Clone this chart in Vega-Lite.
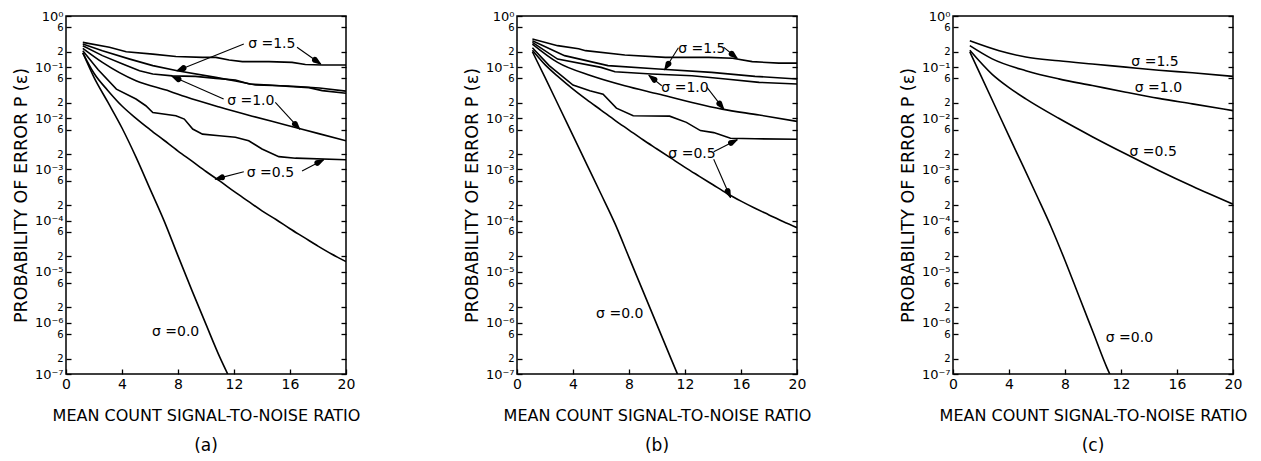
{
  "$schema": "https://vega.github.io/schema/vega-lite/v6.json",
  "background": "white",
  "padding": {"left": 11, "top": 9, "right": 5, "bottom": 2},
  "config": {
    "font": "DejaVu Sans",
    "view": {"stroke": "black", "strokeWidth": 1.5},
    "axis": {"domain": false, "grid": false, "tickColor": "black", "tickWidth": 1.3, "labelColor": "black", "titleColor": "black", "titleFontWeight": "normal", "labelFont": "DejaVu Sans", "titleFont": "DejaVu Sans", "labelOverlap": false, "labelFlush": false},
    "title": {"font": "DejaVu Sans", "fontSize": 17, "fontWeight": "normal", "color": "black"},
    "text": {"font": "DejaVu Sans"}
  },
  "datasets": {
    "curves": [
      {"p":"a","s":"a15j","k":"j","x":1.2,"y":0.305},{"p":"a","s":"a15j","k":"j","x":3.1,"y":0.244},{"p":"a","s":"a15j","k":"j","x":4.3,"y":0.2},{"p":"a","s":"a15j","k":"j","x":6.2,"y":0.18},{"p":"a","s":"a15j","k":"j","x":7.85,"y":0.162},{"p":"a","s":"a15j","k":"j","x":9.75,"y":0.155},{"p":"a","s":"a15j","k":"j","x":10.7,"y":0.155},{"p":"a","s":"a15j","k":"j","x":11.65,"y":0.138},{"p":"a","s":"a15j","k":"j","x":12.6,"y":0.128},{"p":"a","s":"a15j","k":"j","x":14.5,"y":0.128},{"p":"a","s":"a15j","k":"j","x":16.15,"y":0.124},{"p":"a","s":"a15j","k":"j","x":17.1,"y":0.113},{"p":"a","s":"a15j","k":"j","x":18.3,"y":0.11},{"p":"a","s":"a15j","k":"j","x":20,"y":0.11},
      {"p":"a","s":"a15t","k":"j","x":1.2,"y":0.283},{"p":"a","s":"a15t","k":"j","x":2.6,"y":0.209},{"p":"a","s":"a15t","k":"j","x":4.5,"y":0.145},{"p":"a","s":"a15t","k":"j","x":6.2,"y":0.107},{"p":"a","s":"a15t","k":"j","x":7.95,"y":0.0851},{"p":"a","s":"a15t","k":"j","x":10.7,"y":0.0631},{"p":"a","s":"a15t","k":"j","x":12.1,"y":0.0537},{"p":"a","s":"a15t","k":"j","x":13.55,"y":0.0447},{"p":"a","s":"a15t","k":"j","x":15.95,"y":0.0427},{"p":"a","s":"a15t","k":"j","x":18.1,"y":0.039},{"p":"a","s":"a15t","k":"j","x":20,"y":0.0339},
      {"p":"a","s":"a10j","k":"j","x":1.2,"y":0.263},{"p":"a","s":"a10j","k":"j","x":2.6,"y":0.168},{"p":"a","s":"a10j","k":"j","x":4.05,"y":0.115},{"p":"a","s":"a10j","k":"j","x":5.25,"y":0.0851},{"p":"a","s":"a10j","k":"j","x":6.2,"y":0.0733},{"p":"a","s":"a10j","k":"j","x":7.6,"y":0.0676},{"p":"a","s":"a10j","k":"j","x":9.25,"y":0.0661},{"p":"a","s":"a10j","k":"j","x":10.7,"y":0.0603},{"p":"a","s":"a10j","k":"j","x":12.1,"y":0.0562},{"p":"a","s":"a10j","k":"j","x":13.1,"y":0.0468},{"p":"a","s":"a10j","k":"j","x":14.5,"y":0.0447},{"p":"a","s":"a10j","k":"j","x":15.95,"y":0.0417},{"p":"a","s":"a10j","k":"j","x":17.35,"y":0.0398},{"p":"a","s":"a10j","k":"j","x":18.3,"y":0.0347},{"p":"a","s":"a10j","k":"j","x":20,"y":0.0309},
      {"p":"a","s":"a10t","k":"t","x":1.2,"y":0.233},{"p":"a","s":"a10t","k":"t","x":2.6,"y":0.124},{"p":"a","s":"a10t","k":"t","x":5.0,"y":0.0542},{"p":"a","s":"a10t","k":"t","x":7.4,"y":0.0339},{"p":"a","s":"a10t","k":"t","x":8.55,"y":0.0263},{"p":"a","s":"a10t","k":"t","x":10.95,"y":0.0166},{"p":"a","s":"a10t","k":"t","x":13.3,"y":0.011},{"p":"a","s":"a10t","k":"t","x":15.7,"y":0.00741},{"p":"a","s":"a10t","k":"t","x":18.05,"y":0.00501},{"p":"a","s":"a10t","k":"t","x":20,"y":0.00363},
      {"p":"a","s":"a05j","k":"j","x":1.2,"y":0.209},{"p":"a","s":"a05j","k":"j","x":2.3,"y":0.0891},{"p":"a","s":"a05j","k":"j","x":3.6,"y":0.0372},{"p":"a","s":"a05j","k":"j","x":5.0,"y":0.0238},{"p":"a","s":"a05j","k":"j","x":5.7,"y":0.0176},{"p":"a","s":"a05j","k":"j","x":6.2,"y":0.013},{"p":"a","s":"a05j","k":"j","x":7.85,"y":0.0112},{"p":"a","s":"a05j","k":"j","x":8.45,"y":0.00964},{"p":"a","s":"a05j","k":"j","x":9.05,"y":0.00617},{"p":"a","s":"a05j","k":"j","x":9.75,"y":0.0049},{"p":"a","s":"a05j","k":"j","x":10.95,"y":0.00457},{"p":"a","s":"a05j","k":"j","x":12.1,"y":0.00427},{"p":"a","s":"a05j","k":"j","x":13.05,"y":0.00363},{"p":"a","s":"a05j","k":"j","x":14.0,"y":0.00251},{"p":"a","s":"a05j","k":"j","x":15.2,"y":0.00178},{"p":"a","s":"a05j","k":"j","x":16.4,"y":0.00166},{"p":"a","s":"a05j","k":"j","x":20,"y":0.00155},
      {"p":"a","s":"a05t","k":"t","x":1.2,"y":0.191},{"p":"a","s":"a05t","k":"t","x":2,"y":0.0759},{"p":"a","s":"a05t","k":"t","x":3,"y":0.0347},{"p":"a","s":"a05t","k":"t","x":4,"y":0.0174},{"p":"a","s":"a05t","k":"t","x":5,"y":0.01},{"p":"a","s":"a05t","k":"t","x":6,"y":0.00603},{"p":"a","s":"a05t","k":"t","x":7,"y":0.00372},{"p":"a","s":"a05t","k":"t","x":8,"y":0.00229},{"p":"a","s":"a05t","k":"t","x":9,"y":0.00145},{"p":"a","s":"a05t","k":"t","x":10,"y":0.000912},{"p":"a","s":"a05t","k":"t","x":11,"y":0.000589},{"p":"a","s":"a05t","k":"t","x":12,"y":0.000372},{"p":"a","s":"a05t","k":"t","x":13,"y":0.00024},{"p":"a","s":"a05t","k":"t","x":14,"y":0.000155},{"p":"a","s":"a05t","k":"t","x":15,"y":0.000105},{"p":"a","s":"a05t","k":"t","x":16,"y":0.0000692},{"p":"a","s":"a05t","k":"t","x":17,"y":0.0000468},{"p":"a","s":"a05t","k":"t","x":18,"y":0.0000316},{"p":"a","s":"a05t","k":"t","x":19,"y":0.0000219},{"p":"a","s":"a05t","k":"t","x":20,"y":0.0000158},
      {"p":"a","s":"a00t","k":"t","x":1.2,"y":0.191},{"p":"a","s":"a00t","k":"t","x":2,"y":0.0631},{"p":"a","s":"a00t","k":"t","x":3,"y":0.0204},{"p":"a","s":"a00t","k":"t","x":4,"y":0.00646},{"p":"a","s":"a00t","k":"t","x":5,"y":0.00174},{"p":"a","s":"a00t","k":"t","x":6,"y":0.000417},{"p":"a","s":"a00t","k":"t","x":7,"y":0.0001},{"p":"a","s":"a00t","k":"t","x":8,"y":0.0000204},{"p":"a","s":"a00t","k":"t","x":9,"y":0.00000427},{"p":"a","s":"a00t","k":"t","x":10,"y":0.000000933},{"p":"a","s":"a00t","k":"t","x":11,"y":0.000000209},{"p":"a","s":"a00t","k":"t","x":11.55,"y":0.0000001},
      {"p":"b","s":"b15j","k":"j","x":1.1,"y":0.355},{"p":"b","s":"b15j","k":"j","x":2.9,"y":0.263},{"p":"b","s":"b15j","k":"j","x":4.4,"y":0.229},{"p":"b","s":"b15j","k":"j","x":4.9,"y":0.21},{"p":"b","s":"b15j","k":"j","x":7.7,"y":0.173},{"p":"b","s":"b15j","k":"j","x":10.6,"y":0.155},{"p":"b","s":"b15j","k":"j","x":13.7,"y":0.155},{"p":"b","s":"b15j","k":"j","x":15.4,"y":0.149},{"p":"b","s":"b15j","k":"j","x":16.8,"y":0.128},{"p":"b","s":"b15j","k":"j","x":18.7,"y":0.12},{"p":"b","s":"b15j","k":"j","x":20,"y":0.12},
      {"p":"b","s":"b15t","k":"j","x":1.1,"y":0.329},{"p":"b","s":"b15t","k":"j","x":3.4,"y":0.168},{"p":"b","s":"b15t","k":"j","x":6.5,"y":0.107},{"p":"b","s":"b15t","k":"j","x":10.1,"y":0.0918},{"p":"b","s":"b15t","k":"j","x":13.9,"y":0.0791},{"p":"b","s":"b15t","k":"j","x":17,"y":0.0661},{"p":"b","s":"b15t","k":"j","x":20,"y":0.0585},
      {"p":"b","s":"b10j","k":"j","x":1.1,"y":0.305},{"p":"b","s":"b10j","k":"j","x":2.9,"y":0.144},{"p":"b","s":"b10j","k":"j","x":6.0,"y":0.0989},{"p":"b","s":"b10j","k":"j","x":7.0,"y":0.0813},{"p":"b","s":"b10j","k":"j","x":9.6,"y":0.0733},{"p":"b","s":"b10j","k":"j","x":12.5,"y":0.0679},{"p":"b","s":"b10j","k":"j","x":14.9,"y":0.0585},{"p":"b","s":"b10j","k":"j","x":17.3,"y":0.0504},{"p":"b","s":"b10j","k":"j","x":20,"y":0.0468},
      {"p":"b","s":"b10t","k":"t","x":1.1,"y":0.283},{"p":"b","s":"b10t","k":"t","x":2.9,"y":0.124},{"p":"b","s":"b10t","k":"t","x":5.3,"y":0.0681},{"p":"b","s":"b10t","k":"t","x":7.7,"y":0.0434},{"p":"b","s":"b10t","k":"t","x":10.1,"y":0.0298},{"p":"b","s":"b10t","k":"t","x":12.5,"y":0.0204},{"p":"b","s":"b10t","k":"t","x":14.65,"y":0.0151},{"p":"b","s":"b10t","k":"t","x":17.3,"y":0.0116},{"p":"b","s":"b10t","k":"t","x":20,"y":0.0087},
      {"p":"b","s":"b05j","k":"j","x":1.1,"y":0.24},{"p":"b","s":"b05j","k":"j","x":2.3,"y":0.107},{"p":"b","s":"b05j","k":"j","x":4.0,"y":0.0447},{"p":"b","s":"b05j","k":"j","x":5.2,"y":0.0347},{"p":"b","s":"b05j","k":"j","x":6.15,"y":0.0295},{"p":"b","s":"b05j","k":"j","x":7.1,"y":0.0158},{"p":"b","s":"b05j","k":"j","x":8.3,"y":0.0112},{"p":"b","s":"b05j","k":"j","x":10.9,"y":0.011},{"p":"b","s":"b05j","k":"j","x":12.1,"y":0.00832},{"p":"b","s":"b05j","k":"j","x":13.1,"y":0.00575},{"p":"b","s":"b05j","k":"j","x":14.05,"y":0.00525},{"p":"b","s":"b05j","k":"j","x":15.25,"y":0.00407},{"p":"b","s":"b05j","k":"j","x":17,"y":0.00398},{"p":"b","s":"b05j","k":"j","x":20,"y":0.00389},
      {"p":"b","s":"b05t","k":"t","x":1.1,"y":0.214},{"p":"b","s":"b05t","k":"t","x":2,"y":0.112},{"p":"b","s":"b05t","k":"t","x":3,"y":0.0631},{"p":"b","s":"b05t","k":"t","x":4,"y":0.0372},{"p":"b","s":"b05t","k":"t","x":5,"y":0.0229},{"p":"b","s":"b05t","k":"t","x":6,"y":0.0145},{"p":"b","s":"b05t","k":"t","x":7,"y":0.00912},{"p":"b","s":"b05t","k":"t","x":8,"y":0.00589},{"p":"b","s":"b05t","k":"t","x":9,"y":0.0038},{"p":"b","s":"b05t","k":"t","x":10,"y":0.00251},{"p":"b","s":"b05t","k":"t","x":11,"y":0.00166},{"p":"b","s":"b05t","k":"t","x":12,"y":0.0011},{"p":"b","s":"b05t","k":"t","x":13,"y":0.000741},{"p":"b","s":"b05t","k":"t","x":14,"y":0.000501},{"p":"b","s":"b05t","k":"t","x":15,"y":0.000339},{"p":"b","s":"b05t","k":"t","x":16,"y":0.00024},{"p":"b","s":"b05t","k":"t","x":17,"y":0.000174},{"p":"b","s":"b05t","k":"t","x":18,"y":0.000129},{"p":"b","s":"b05t","k":"t","x":19,"y":0.0000955},{"p":"b","s":"b05t","k":"t","x":20,"y":0.0000724},
      {"p":"b","s":"b00t","k":"t","x":1.1,"y":0.2},{"p":"b","s":"b00t","k":"t","x":2,"y":0.0631},{"p":"b","s":"b00t","k":"t","x":3,"y":0.017},{"p":"b","s":"b00t","k":"t","x":4,"y":0.00457},{"p":"b","s":"b00t","k":"t","x":5,"y":0.00123},{"p":"b","s":"b00t","k":"t","x":6,"y":0.000331},{"p":"b","s":"b00t","k":"t","x":7,"y":0.0000871},{"p":"b","s":"b00t","k":"t","x":8,"y":0.0000191},{"p":"b","s":"b00t","k":"t","x":9,"y":0.00000417},{"p":"b","s":"b00t","k":"t","x":10,"y":0.000000912},{"p":"b","s":"b00t","k":"t","x":11,"y":0.0000002},{"p":"b","s":"b00t","k":"t","x":11.46,"y":0.0000001},
      {"p":"c","s":"c15t","k":"t","x":1.2,"y":0.327},{"p":"c","s":"c15t","k":"t","x":3.3,"y":0.209},{"p":"c","s":"c15t","k":"t","x":5.2,"y":0.158},{"p":"c","s":"c15t","k":"t","x":7.55,"y":0.133},{"p":"c","s":"c15t","k":"t","x":9.95,"y":0.115},{"p":"c","s":"c15t","k":"t","x":12.35,"y":0.1},{"p":"c","s":"c15t","k":"t","x":14.7,"y":0.0871},{"p":"c","s":"c15t","k":"t","x":17.1,"y":0.0776},{"p":"c","s":"c15t","k":"t","x":20,"y":0.0661},
      {"p":"c","s":"c10t","k":"t","x":1.2,"y":0.263},{"p":"c","s":"c10t","k":"t","x":2.8,"y":0.145},{"p":"c","s":"c10t","k":"t","x":5.2,"y":0.0851},{"p":"c","s":"c10t","k":"t","x":7.55,"y":0.0589},{"p":"c","s":"c10t","k":"t","x":9.95,"y":0.0437},{"p":"c","s":"c10t","k":"t","x":12.35,"y":0.0324},{"p":"c","s":"c10t","k":"t","x":14.7,"y":0.0245},{"p":"c","s":"c10t","k":"t","x":17.1,"y":0.0191},{"p":"c","s":"c10t","k":"t","x":20,"y":0.0141},
      {"p":"c","s":"c05t","k":"t","x":1.2,"y":0.214},{"p":"c","s":"c05t","k":"t","x":2.8,"y":0.0724},{"p":"c","s":"c05t","k":"t","x":4.0,"y":0.0398},{"p":"c","s":"c05t","k":"t","x":5.2,"y":0.024},{"p":"c","s":"c05t","k":"t","x":7.55,"y":0.01},{"p":"c","s":"c05t","k":"t","x":9.95,"y":0.00437},{"p":"c","s":"c05t","k":"t","x":12.35,"y":0.002},{"p":"c","s":"c05t","k":"t","x":14.7,"y":0.000955},{"p":"c","s":"c05t","k":"t","x":17.1,"y":0.000468},{"p":"c","s":"c05t","k":"t","x":20,"y":0.000209},
      {"p":"c","s":"c00t","k":"t","x":1.2,"y":0.2},{"p":"c","s":"c00t","k":"t","x":2,"y":0.0676},{"p":"c","s":"c00t","k":"t","x":3,"y":0.0174},{"p":"c","s":"c00t","k":"t","x":4,"y":0.00447},{"p":"c","s":"c00t","k":"t","x":5,"y":0.00117},{"p":"c","s":"c00t","k":"t","x":6,"y":0.000302},{"p":"c","s":"c00t","k":"t","x":7,"y":0.0000759},{"p":"c","s":"c00t","k":"t","x":8,"y":0.0000166},{"p":"c","s":"c00t","k":"t","x":9,"y":0.00000331},{"p":"c","s":"c00t","k":"t","x":10,"y":0.000000661},{"p":"c","s":"c00t","k":"t","x":11,"y":0.000000132},{"p":"c","s":"c00t","k":"t","x":11.2,"y":0.0000001}
    ],
    "labels": [
      {"p":"a","t":"σ =1.5","x":14.7,"y":0.283},{"p":"a","t":"σ =1.0","x":13.2,"y":0.022},{"p":"a","t":"σ =0.5","x":14.6,"y":0.00085},{"p":"a","t":"σ =0.0","x":7.83,"y":0.00000065},
      {"p":"b","t":"σ =1.5","x":13.2,"y":0.226},{"p":"b","t":"σ =1.0","x":12.0,"y":0.0385},{"p":"b","t":"σ =0.5","x":12.5,"y":0.002},{"p":"b","t":"σ =0.0","x":7.34,"y":0.0000015},
      {"p":"c","t":"σ =1.5","x":14.43,"y":0.127},{"p":"c","t":"σ =1.0","x":14.67,"y":0.0385},{"p":"c","t":"σ =0.5","x":14.3,"y":0.00215},{"p":"c","t":"σ =0.0","x":12.6,"y":0.00000051}
    ],
    "arrows": [
      {"p":"a","id":"a1","part":"tail","x":12.7,"y":0.283},{"p":"a","id":"a1","part":"base","x":8.39,"y":0.0957},{"p":"a","id":"a1","part":"tip","x":7.93,"y":0.0851},
      {"p":"a","id":"a2","part":"tail","x":16.5,"y":0.245},{"p":"a","id":"a2","part":"base","x":17.79,"y":0.138},{"p":"a","id":"a2","part":"tip","x":18.2,"y":0.115},
      {"p":"a","id":"a3","part":"tail","x":11.26,"y":0.0238},{"p":"a","id":"a3","part":"base","x":8.03,"y":0.0582},{"p":"a","id":"a3","part":"tip","x":7.57,"y":0.0661},
      {"p":"a","id":"a4","part":"tail","x":14.95,"y":0.0204},{"p":"a","id":"a4","part":"base","x":16.36,"y":0.00771},{"p":"a","id":"a4","part":"tip","x":16.7,"y":0.00611},
      {"p":"a","id":"a5","part":"tail","x":12.7,"y":0.0009},{"p":"a","id":"a5","part":"base","x":11.14,"y":0.000698},{"p":"a","id":"a5","part":"tip","x":10.66,"y":0.000646},
      {"p":"a","id":"a6","part":"tail","x":16.86,"y":0.000933},{"p":"a","id":"a6","part":"base","x":17.96,"y":0.00134},{"p":"a","id":"a6","part":"tip","x":18.4,"y":0.00155},
      {"p":"b","id":"b1","part":"tail","x":11.53,"y":0.24},{"p":"b","id":"b1","part":"base","x":10.81,"y":0.116},{"p":"b","id":"b1","part":"tip","x":10.55,"y":0.0891},
      {"p":"b","id":"b2","part":"tail","x":14.77,"y":0.244},{"p":"b","id":"b2","part":"base","x":15.34,"y":0.182},{"p":"b","id":"b2","part":"tip","x":15.73,"y":0.149},
      {"p":"b","id":"b3","part":"tail","x":10.34,"y":0.0433},{"p":"b","id":"b3","part":"base","x":9.81,"y":0.0568},{"p":"b","id":"b3","part":"tip","x":9.42,"y":0.0692},
      {"p":"b","id":"b4","part":"tail","x":13.57,"y":0.0402},{"p":"b","id":"b4","part":"base","x":14.46,"y":0.0194},{"p":"b","id":"b4","part":"tip","x":14.77,"y":0.0151},
      {"p":"b","id":"b5","part":"tail","x":14.05,"y":0.00221},{"p":"b","id":"b5","part":"base","x":15.29,"y":0.0033},{"p":"b","id":"b5","part":"tip","x":15.73,"y":0.0038},
      {"p":"b","id":"b6","part":"tail","x":14.05,"y":0.00158},{"p":"b","id":"b6","part":"base","x":15.05,"y":0.000376},{"p":"b","id":"b6","part":"tip","x":15.25,"y":0.000282}
    ]
  },
  "spacing": 86,
  "hconcat": [
    {
      "width": 280, "height": 358,
      "title": {"text": "(a)", "orient": "bottom", "offset": 15},
      "resolve": {"axis": {"y": "independent"}},
      "layer": [
        {"data": {"name": "curves"}, "transform": [{"filter": "datum.p == 'a' && datum.k == 't'"}],
         "mark": {"type": "line", "color": "black", "strokeWidth": 1.6, "interpolate": "monotone", "clip": true},
         "encoding": {
           "x": {"field": "x", "type": "quantitative", "scale": {"domain": [0, 20], "nice": false},
                 "axis": {"values": [0,2,4,6,8,10,12,14,16,18,20], "labelExpr": "datum.value % 4 == 0 ? datum.label : ''", "offset": -5, "tickSize": 5, "labelPadding": 3, "labelFontSize": 14, "title": "MEAN COUNT SIGNAL-TO-NOISE RATIO", "titleFontSize": 16, "titlePadding": 16}},
           "y": {"field": "y", "type": "quantitative", "scale": {"type": "log", "domain": [0.0000001, 1], "nice": false},
                 "axis": {"values": [1,0.6,0.2,0.1,0.06,0.02,0.01,0.006,0.002,0.001,0.0006,0.0002,0.0001,0.00006,0.00002,0.00001,0.000006,0.000002,0.000001,0.0000006,0.0000002,0.0000001],
                          "labelExpr": "round(datum.value/pow(10,floor(log(datum.value)/LN10+0.000001)))==1 ? '10'+['⁰','⁻¹','⁻²','⁻³','⁻⁴','⁻⁵','⁻⁶','⁻⁷'][-floor(log(datum.value)/LN10+0.000001)] : ''+round(datum.value/pow(10,floor(log(datum.value)/LN10+0.000001)))",
                          "labelFontSize": {"condition": {"test": "round(datum.value/pow(10,floor(log(datum.value)/LN10+0.000001)))==1", "value": 13}, "value": 10},
                          "offset": -5, "tickSize": 5, "labelPadding": 3, "title": "PROBABILITY OF ERROR P (ε)", "titleFontSize": 17.5, "titlePadding": 4}},
           "detail": {"field": "s"}
         }},
        {"data": {"name": "curves"}, "transform": [{"filter": "datum.p == 'a' && datum.k == 'j'"}],
         "mark": {"type": "line", "color": "black", "strokeWidth": 1.6, "clip": true},
         "encoding": {
           "x": {"field": "x", "type": "quantitative"},
           "y": {"field": "y", "type": "quantitative", "axis": null},
           "detail": {"field": "s"}
         }},
        {"data": {"name": "labels"}, "transform": [{"filter": "datum.p == 'a'"}],
         "mark": {"type": "text", "fontSize": 14, "color": "black"},
         "encoding": {
           "x": {"field": "x", "type": "quantitative"},
           "y": {"field": "y", "type": "quantitative", "axis": {"orient": "right", "values": [1,0.6,0.2,0.1,0.06,0.02,0.01,0.006,0.002,0.001,0.0006,0.0002,0.0001,0.00006,0.00002,0.00001,0.000006,0.000002,0.000001,0.0000006,0.0000002,0.0000001], "labels": false, "offset": -5, "tickSize": 5, "title": null, "minExtent": 34}},
           "text": {"field": "t"}
         }},
        {"data": {"name": "arrows"}, "transform": [{"filter": "datum.p == 'a' && datum.part != 'base'"}],
         "mark": {"type": "line", "color": "black", "strokeWidth": 1.1},
         "encoding": {
           "x": {"field": "x", "type": "quantitative"},
           "y": {"field": "y", "type": "quantitative", "axis": null},
           "detail": {"field": "id"}
         }},
        {"data": {"name": "arrows"}, "transform": [{"filter": "datum.p == 'a' && datum.part != 'tail'"}],
         "mark": {"type": "trail", "color": "black"},
         "encoding": {
           "x": {"field": "x", "type": "quantitative"},
           "y": {"field": "y", "type": "quantitative", "axis": null},
           "detail": {"field": "id"},
           "size": {"condition": {"test": "datum.part == 'tip'", "value": 0}, "value": 6}
         }}
      ]
    },
    {
      "width": 280, "height": 358,
      "title": {"text": "(b)", "orient": "bottom", "offset": 15},
      "resolve": {"axis": {"y": "independent"}},
      "layer": [
        {"data": {"name": "curves"}, "transform": [{"filter": "datum.p == 'b' && datum.k == 't'"}],
         "mark": {"type": "line", "color": "black", "strokeWidth": 1.6, "interpolate": "monotone", "clip": true},
         "encoding": {
           "x": {"field": "x", "type": "quantitative", "scale": {"domain": [0, 20], "nice": false},
                 "axis": {"values": [0,2,4,6,8,10,12,14,16,18,20], "labelExpr": "datum.value % 4 == 0 ? datum.label : ''", "offset": -5, "tickSize": 5, "labelPadding": 3, "labelFontSize": 14, "title": "MEAN COUNT SIGNAL-TO-NOISE RATIO", "titleFontSize": 16, "titlePadding": 16}},
           "y": {"field": "y", "type": "quantitative", "scale": {"type": "log", "domain": [0.0000001, 1], "nice": false},
                 "axis": {"values": [1,0.6,0.2,0.1,0.06,0.02,0.01,0.006,0.002,0.001,0.0006,0.0002,0.0001,0.00006,0.00002,0.00001,0.000006,0.000002,0.000001,0.0000006,0.0000002,0.0000001],
                          "labelExpr": "round(datum.value/pow(10,floor(log(datum.value)/LN10+0.000001)))==1 ? '10'+['⁰','⁻¹','⁻²','⁻³','⁻⁴','⁻⁵','⁻⁶','⁻⁷'][-floor(log(datum.value)/LN10+0.000001)] : ''+round(datum.value/pow(10,floor(log(datum.value)/LN10+0.000001)))",
                          "labelFontSize": {"condition": {"test": "round(datum.value/pow(10,floor(log(datum.value)/LN10+0.000001)))==1", "value": 13}, "value": 10},
                          "offset": -5, "tickSize": 5, "labelPadding": 3, "title": "PROBABILITY OF ERROR P (ε)", "titleFontSize": 17.5, "titlePadding": 4}},
           "detail": {"field": "s"}
         }},
        {"data": {"name": "curves"}, "transform": [{"filter": "datum.p == 'b' && datum.k == 'j'"}],
         "mark": {"type": "line", "color": "black", "strokeWidth": 1.6, "clip": true},
         "encoding": {
           "x": {"field": "x", "type": "quantitative"},
           "y": {"field": "y", "type": "quantitative", "axis": null},
           "detail": {"field": "s"}
         }},
        {"data": {"name": "labels"}, "transform": [{"filter": "datum.p == 'b'"}],
         "mark": {"type": "text", "fontSize": 14, "color": "black"},
         "encoding": {
           "x": {"field": "x", "type": "quantitative"},
           "y": {"field": "y", "type": "quantitative", "axis": {"orient": "right", "values": [1,0.6,0.2,0.1,0.06,0.02,0.01,0.006,0.002,0.001,0.0006,0.0002,0.0001,0.00006,0.00002,0.00001,0.000006,0.000002,0.000001,0.0000006,0.0000002,0.0000001], "labels": false, "offset": -5, "tickSize": 5, "title": null, "minExtent": 0}},
           "text": {"field": "t"}
         }},
        {"data": {"name": "arrows"}, "transform": [{"filter": "datum.p == 'b' && datum.part != 'base'"}],
         "mark": {"type": "line", "color": "black", "strokeWidth": 1.1},
         "encoding": {
           "x": {"field": "x", "type": "quantitative"},
           "y": {"field": "y", "type": "quantitative", "axis": null},
           "detail": {"field": "id"}
         }},
        {"data": {"name": "arrows"}, "transform": [{"filter": "datum.p == 'b' && datum.part != 'tail'"}],
         "mark": {"type": "trail", "color": "black"},
         "encoding": {
           "x": {"field": "x", "type": "quantitative"},
           "y": {"field": "y", "type": "quantitative", "axis": null},
           "detail": {"field": "id"},
           "size": {"condition": {"test": "datum.part == 'tip'", "value": 0}, "value": 6}
         }}
      ]
    },
    {
      "width": 280, "height": 358,
      "title": {"text": "(c)", "orient": "bottom", "offset": 15},
      "resolve": {"axis": {"y": "independent"}},
      "layer": [
        {"data": {"name": "curves"}, "transform": [{"filter": "datum.p == 'c'"}],
         "mark": {"type": "line", "color": "black", "strokeWidth": 1.6, "interpolate": "monotone", "clip": true},
         "encoding": {
           "x": {"field": "x", "type": "quantitative", "scale": {"domain": [0, 20], "nice": false},
                 "axis": {"values": [0,2,4,6,8,10,12,14,16,18,20], "labelExpr": "datum.value % 4 == 0 ? datum.label : ''", "offset": -5, "tickSize": 5, "labelPadding": 3, "labelFontSize": 14, "title": "MEAN COUNT SIGNAL-TO-NOISE RATIO", "titleFontSize": 16, "titlePadding": 16}},
           "y": {"field": "y", "type": "quantitative", "scale": {"type": "log", "domain": [0.0000001, 1], "nice": false},
                 "axis": {"values": [1,0.6,0.2,0.1,0.06,0.02,0.01,0.006,0.002,0.001,0.0006,0.0002,0.0001,0.00006,0.00002,0.00001,0.000006,0.000002,0.000001,0.0000006,0.0000002,0.0000001],
                          "labelExpr": "round(datum.value/pow(10,floor(log(datum.value)/LN10+0.000001)))==1 ? '10'+['⁰','⁻¹','⁻²','⁻³','⁻⁴','⁻⁵','⁻⁶','⁻⁷'][-floor(log(datum.value)/LN10+0.000001)] : ''+round(datum.value/pow(10,floor(log(datum.value)/LN10+0.000001)))",
                          "labelFontSize": {"condition": {"test": "round(datum.value/pow(10,floor(log(datum.value)/LN10+0.000001)))==1", "value": 13}, "value": 10},
                          "offset": -5, "tickSize": 5, "labelPadding": 3, "title": "PROBABILITY OF ERROR P (ε)", "titleFontSize": 17.5, "titlePadding": 4}},
           "detail": {"field": "s"}
         }},
        {"data": {"name": "labels"}, "transform": [{"filter": "datum.p == 'c'"}],
         "mark": {"type": "text", "fontSize": 14, "color": "black"},
         "encoding": {
           "x": {"field": "x", "type": "quantitative"},
           "y": {"field": "y", "type": "quantitative", "axis": {"orient": "right", "values": [1,0.6,0.2,0.1,0.06,0.02,0.01,0.006,0.002,0.001,0.0006,0.0002,0.0001,0.00006,0.00002,0.00001,0.000006,0.000002,0.000001,0.0000006,0.0000002,0.0000001], "labels": false, "offset": -5, "tickSize": 5, "title": null, "minExtent": 0}},
           "text": {"field": "t"}
         }}
      ]
    }
  ]
}
